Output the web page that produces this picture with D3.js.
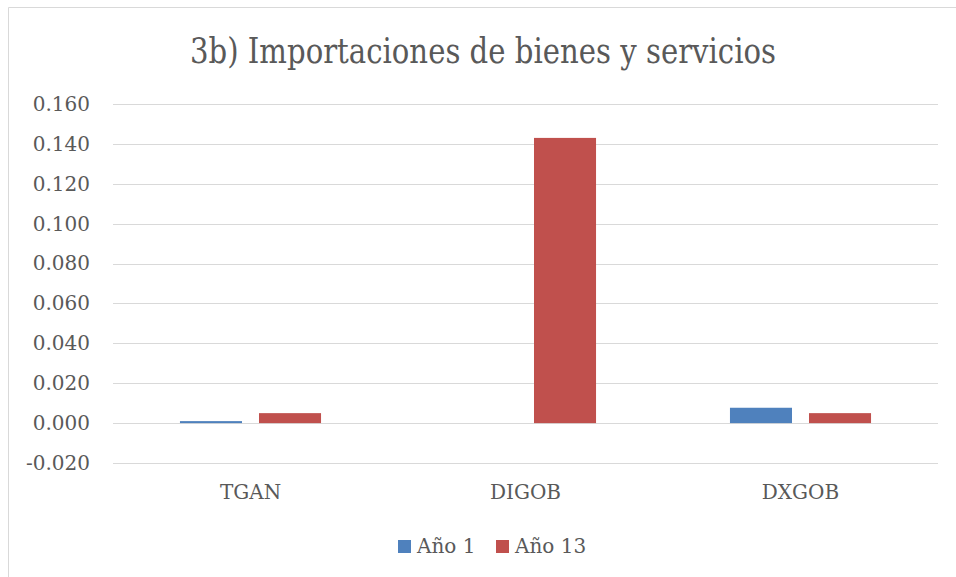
<!DOCTYPE html>
<html><head><meta charset="utf-8">
<script src="https://cdn.jsdelivr.net/npm/d3@7"></script>
<style>body{margin:0;background:#fff}svg{display:block}</style>
</head><body>
<svg id="c" width="956" height="577"></svg>
<script>
const title = "3b) Importaciones de bienes y servicios";
const categories = ["TGAN", "DIGOB", "DXGOB"];
const seriesNames = ["Año 1", "Año 13"];
const ano1 = [0.001, 0.0, 0.0077];
const ano13 = [0.005, 0.143, 0.005];
const yTicks = [-0.02, 0, 0.02, 0.04, 0.06, 0.08, 0.10, 0.12, 0.14, 0.16];
const colors = ["#4F81BD", "#C0504D"];

const FONT = "'DejaVu Serif', serif";
const TXT = "#595959";
const svg = d3.select("#c");

// chart border
svg.append("path").attr("d", "M8.5,577 V7.5 H956").attr("fill", "none").attr("stroke", "#d9d9d9").attr("stroke-width", 1);

const plot = {left: 113, right: 938, top: 104, bottom: 463};
const y = d3.scaleLinear().domain([-0.02, 0.16]).range([plot.bottom, plot.top]);
const x0 = d3.scaleBand().domain(categories).range([plot.left, plot.right]).paddingInner(0.487).paddingOuter(0.2435);
const x1 = d3.scaleBand().domain(seriesNames).range([0, x0.bandwidth()]).paddingInner(0.215).paddingOuter(0);

// gridlines
svg.append("g").selectAll("line").data(yTicks).join("line")
  .attr("x1", plot.left).attr("x2", plot.right)
  .attr("y1", d => Math.round(y(d)) + 0.5).attr("y2", d => Math.round(y(d)) + 0.5)
  .attr("stroke", "#d9d9d9").attr("stroke-width", 1);

// y axis labels
const yAxis = d3.axisLeft(y).tickValues(yTicks).tickFormat(d3.format(".3f")).tickSize(0).tickPadding(0);
const ga = svg.append("g").attr("transform", "translate(90,0)").call(yAxis);
ga.select(".domain").remove();
ga.selectAll("text").attr("font-family", FONT).attr("font-size", 20).attr("fill", TXT).text(d => d3.format(".3f")(d).replace("−", "-"));

// bars
const data = categories.map((c, i) => ({c, vals: [ano1[i], ano13[i]]}));
const groups = svg.append("g").selectAll("g").data(data).join("g")
  .attr("transform", d => `translate(${x0(d.c)},0)`);
groups.selectAll("rect").data(d => d.vals.map((v, j) => ({v, s: seriesNames[j], j}))).join("rect")
  .attr("x", d => x1(d.s)).attr("width", x1.bandwidth())
  .attr("y", d => y(Math.max(0, d.v))).attr("height", d => Math.abs(y(d.v) - y(0)))
  .attr("fill", d => colors[d.j]);

// category labels
const xAxis = d3.axisBottom(x0).tickSize(0).tickPadding(0);
const gx = svg.append("g").attr("transform", "translate(0,485)").call(xAxis);
gx.select(".domain").remove();
gx.selectAll("text").attr("font-family", FONT).attr("font-size", 20).attr("fill", TXT);

// title
svg.append("text").attr("x", 483).attr("y", 63).attr("text-anchor", "middle")
  .attr("font-family", FONT).attr("font-size", 36).attr("fill", TXT)
  .attr("textLength", 586).attr("lengthAdjust", "spacingAndGlyphs").text(title);

// legend
const lg = svg.append("g");
const legX = [398, 496];
seriesNames.forEach((s, i) => {
  lg.append("rect").attr("x", legX[i]).attr("y", 540).attr("width", 13).attr("height", 13).attr("fill", colors[i]);
  lg.append("text").attr("x", legX[i] + 19).attr("y", 553).attr("font-family", FONT).attr("font-size", 20).attr("fill", TXT).text(s);
});
</script>
</body></html>
